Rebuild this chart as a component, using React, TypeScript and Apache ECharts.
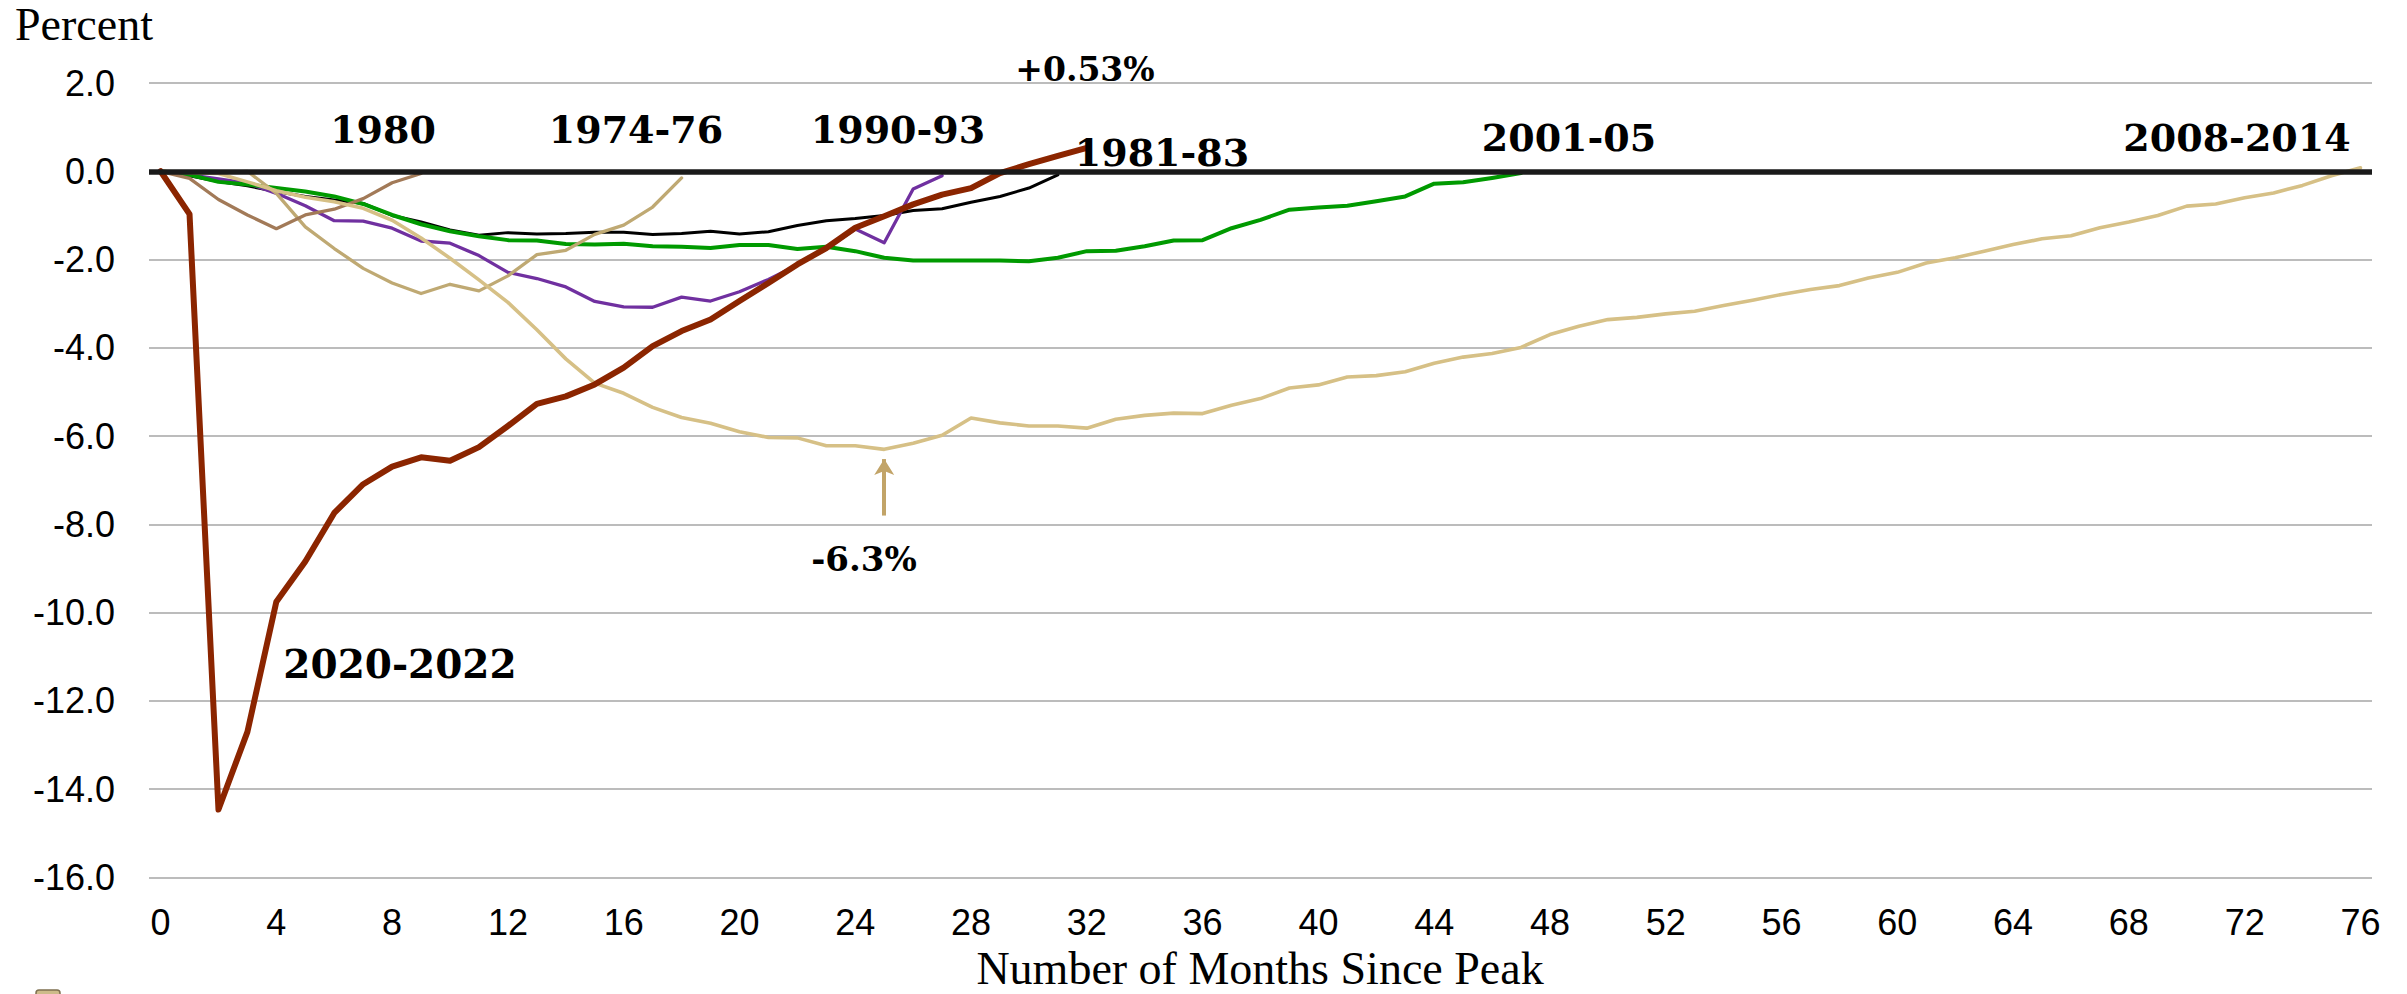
import React, { useEffect, useRef } from "react";
import * as echarts from "echarts";

// Percent change in payroll employment by number of months since the peak
const s1980 = [0, -0.16, -0.64, -0.99, -1.3, -0.99, -0.86, -0.62, -0.26, -0.05];
const s1974 = [0, -0.03, -0.03, 0, -0.5, -1.26, -1.75, -2.2, -2.53, -2.77, -2.56, -2.71, -2.37, -1.89, -1.79, -1.43, -1.22, -0.81, -0.15];
const s1990 = [0, -0.08, -0.17, -0.27, -0.5, -0.78, -1.12, -1.13, -1.29, -1.58, -1.63, -1.91, -2.29, -2.43, -2.62, -2.95, -3.07, -3.08, -2.85, -2.94, -2.73, -2.45, -2.12, -1.76, -1.31, -1.62, -0.4, -0.1];
const s1981 = [0, -0.1, -0.23, -0.33, -0.46, -0.57, -0.65, -0.73, -1.0, -1.15, -1.33, -1.45, -1.39, -1.42, -1.41, -1.38, -1.38, -1.43, -1.41, -1.36, -1.42, -1.37, -1.23, -1.12, -1.07, -1.0, -0.89, -0.85, -0.7, -0.57, -0.38, -0.08];
const s2001 = [0, -0.08, -0.24, -0.3, -0.38, -0.46, -0.57, -0.74, -0.99, -1.2, -1.36, -1.47, -1.56, -1.57, -1.65, -1.66, -1.64, -1.7, -1.71, -1.74, -1.67, -1.67, -1.76, -1.71, -1.81, -1.96, -2.02, -2.02, -2.02, -2.02, -2.04, -1.96, -1.81, -1.8, -1.7, -1.57, -1.56, -1.29, -1.1, -0.87, -0.82, -0.78, -0.68, -0.57, -0.28, -0.25, -0.15, -0.04];
const s2008 = [0, -0.03, -0.05, -0.24, -0.44, -0.59, -0.69, -0.84, -1.11, -1.51, -1.97, -2.46, -2.97, -3.59, -4.25, -4.8, -5.03, -5.35, -5.58, -5.71, -5.9, -6.03, -6.04, -6.22, -6.22, -6.3, -6.16, -5.98, -5.59, -5.7, -5.77, -5.77, -5.82, -5.62, -5.53, -5.48, -5.49, -5.3, -5.15, -4.91, -4.84, -4.66, -4.63, -4.54, -4.35, -4.21, -4.13, -3.99, -3.7, -3.51, -3.36, -3.31, -3.23, -3.17, -3.04, -2.92, -2.79, -2.68, -2.59, -2.42, -2.29, -2.08, -1.96, -1.81, -1.66, -1.53, -1.46, -1.28, -1.15, -1.0, -0.79, -0.74, -0.6, -0.49, -0.32, -0.1, 0.08];
const s2020 = [0, -0.97, -14.46, -12.7, -9.75, -8.84, -7.74, -7.09, -6.69, -6.48, -6.56, -6.25, -5.77, -5.27, -5.1, -4.83, -4.45, -3.96, -3.62, -3.36, -2.94, -2.53, -2.11, -1.74, -1.28, -1.02, -0.75, -0.53, -0.38, -0.04, 0.16, 0.35, 0.53];

const xTicks = [0, 4, 8, 12, 16, 20, 24, 28, 32, 36, 40, 44, 48, 52, 56, 60, 64, 68, 72, 76];

const toPts = (arr: number[]) => arr.map((v, i) => [i, v]);

const SERIF_BOLD = '"DejaVu Serif", serif';
const SERIF = '"Liberation Serif", "Times New Roman", serif';

export default function App() {
  const ref = useRef<HTMLDivElement>(null);

  useEffect(() => {
    const chart = echarts.init(ref.current!, null, { renderer: "svg" });

    const lineSeries = (name: string, data: number[], color: string, width: number, extra: any = {}) => ({
      name,
      type: "line",
      data: toPts(data),
      symbol: "none",
      showSymbol: false,
      lineStyle: { color, width, join: "round", cap: "round" },
      itemStyle: { color },
      silent: true,
      ...extra,
    });

    const label = (text: string, x: number, y: number, size: number) => ({
      type: "text",
      x,
      y,
      z: 100,
      style: {
        text,
        fill: "#000",
        font: `bold ${size}px ${SERIF_BOLD}`,
        align: "center",
        verticalAlign: "middle",
      },
    });

    const option: any = {
      animation: false,
      backgroundColor: "#ffffff",
      grid: { left: 149, right: 35, top: 83, bottom: 116.5, containLabel: false },
      xAxis: {
        type: "value",
        min: -0.4,
        max: 76.4,
        axisLine: { show: false },
        axisTick: { show: false },
        splitLine: { show: false },
        axisLabel: {
          customValues: xTicks,
          margin: 27,
          fontSize: 36,
          color: "#000",
          fontFamily: "Liberation Sans, Arial, sans-serif",
        },
      },
      yAxis: {
        type: "value",
        min: -16,
        max: 2,
        interval: 2,
        axisLine: { show: false },
        axisTick: { show: false },
        splitLine: { show: true, lineStyle: { color: "#a6a6a6", width: 1.6 } },
        axisLabel: {
          formatter: (v: number) => v.toFixed(1),
          margin: 34,
          fontSize: 36,
          color: "#000",
          fontFamily: "Liberation Sans, Arial, sans-serif",
        },
      },
      series: [
        lineSeries("1981-83", s1981, "#000000", 3, {
          markLine: {
            silent: true,
            symbol: ["none", "none"],
            label: { show: false },
            lineStyle: { color: "#1a1a1a", width: 5.5, type: "solid" },
            data: [{ yAxis: 0 }],
          },
        }),
        lineSeries("1990-93", s1990, "#7030a0", 3.3),
        lineSeries("2001-05", s2001, "#009a00", 4),
        lineSeries("1974-76", s1974, "#bfa973", 3.3),
        lineSeries("1980", s1980, "#a27a58", 3.3),
        lineSeries("2008-2014", s2008, "#d6c086", 3.6, {
          markLine: {
            silent: true,
            symbol: ["none", "arrow"],
            symbolSize: [15, 16],
            label: { show: false },
            lineStyle: { color: "#c2a468", width: 4, type: "solid" },
            data: [[{ coord: [25, -7.8] }, { coord: [25, -6.52] }]],
          },
        }),
        lineSeries("2020-2022", s2020, "#8b2500", 6),
      ],
      graphic: [
        {
          type: "text",
          x: 15,
          y: 24,
          style: {
            text: "Percent",
            fill: "#000",
            font: `46px ${SERIF}`,
            align: "left",
            verticalAlign: "middle",
          },
        },
        {
          type: "text",
          x: 1260,
          y: 968,
          style: {
            text: "Number of Months Since Peak",
            fill: "#000",
            font: `46px ${SERIF}`,
            align: "center",
            verticalAlign: "middle",
          },
        },
        label("1980", 383, 129, 38),
        label("1974-76", 636, 129, 38),
        label("1990-93", 898, 129, 38),
        label("+0.53%", 1085, 69, 33),
        label("1981-83", 1162, 152, 38),
        label("2001-05", 1569, 137, 38),
        label("2008-2014", 2237, 137, 38),
        label("2020-2022", 400, 664, 39),
        label("-6.3%", 864, 559, 34),
        {
          type: "rect",
          shape: { x: 36, y: 990, width: 24, height: 12, r: 3 },
          style: { fill: "#cdbb8a", stroke: "#7f7050", lineWidth: 1.5 },
        },
      ],
    };

    chart.setOption(option);
    return () => chart.dispose();
  }, []);

  return (
    <div
      ref={ref}
      style={{ position: "fixed", left: 0, top: 0, width: "2407px", height: "994px", background: "#fff" }}
    />
  );
}
